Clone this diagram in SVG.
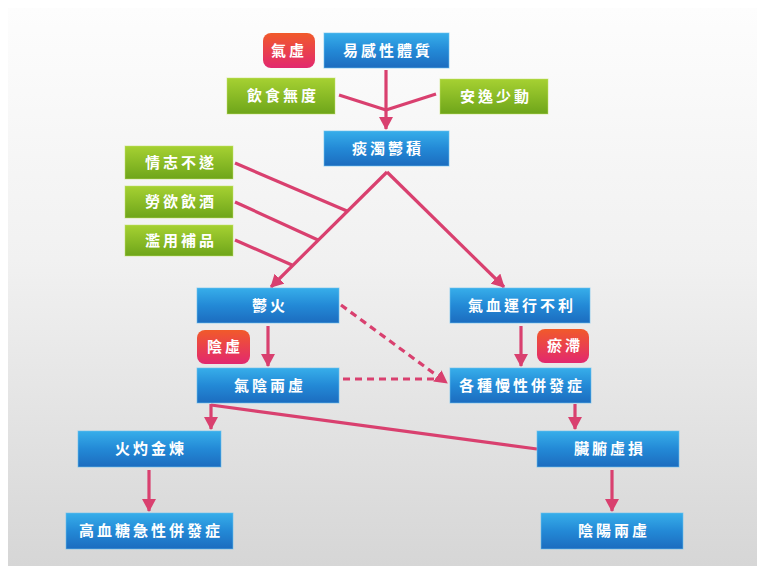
<svg xmlns="http://www.w3.org/2000/svg" width="765" height="571" viewBox="0 0 765 571">
<defs>
<linearGradient id="bg" x1="0" y1="0" x2="0" y2="1">
<stop offset="0" stop-color="#fdfdfd"/>
<stop offset="0.45" stop-color="#f1f1f1"/>
<stop offset="1" stop-color="#d6d6d6"/>
</linearGradient>
<linearGradient id="blue" x1="0" y1="0" x2="0" y2="1">
<stop offset="0" stop-color="#37aeea"/>
<stop offset="0.5" stop-color="#2389d6"/>
<stop offset="1" stop-color="#1c6cbf"/>
</linearGradient>
<linearGradient id="green" x1="0" y1="0" x2="0" y2="1">
<stop offset="0" stop-color="#a6d132"/>
<stop offset="1" stop-color="#6ea51a"/>
</linearGradient>
<linearGradient id="red" x1="0" y1="0" x2="0" y2="1">
<stop offset="0" stop-color="#f15a2a"/>
<stop offset="1" stop-color="#e2286f"/>
</linearGradient>
<marker id="arr" markerUnits="userSpaceOnUse" markerWidth="14" markerHeight="14" viewBox="0 0 14 14" refX="12" refY="7" orient="auto">
<path d="M0,0 L13,7 L0,14 Z" fill="#d9406f"/>
</marker>
</defs>
<style>
.blue{fill:url(#blue);stroke:#6cc2f0;stroke-width:1;stroke-opacity:0.6}
.green{fill:url(#green);stroke:#c3e36a;stroke-width:1;stroke-opacity:0.5}
.red{fill:url(#red)}
text{font-family:"Noto Sans CJK TC","Noto Sans CJK SC",sans-serif;font-weight:bold;font-size:15px;fill:#ffffff;text-anchor:middle;letter-spacing:3px}
.c{stroke:#d9406f;stroke-width:3.2;fill:none}
.d{stroke:#d9406f;stroke-width:3.2;fill:none;stroke-dasharray:7,5}
</style>
<rect x="0" y="0" width="765" height="571" fill="#ffffff"/>
<rect x="8" y="8" width="749" height="558" fill="url(#bg)"/>

<g id="connectors">
<line class="c" x1="386" y1="70" x2="386" y2="129" marker-end="url(#arr)"/>
<line class="c" x1="339" y1="95" x2="386" y2="110"/>
<line class="c" x1="436" y1="94" x2="386" y2="110"/>
<line class="c" x1="387" y1="172" x2="271" y2="287" marker-end="url(#arr)"/>
<line class="c" x1="387" y1="172" x2="504" y2="287" marker-end="url(#arr)"/>
<line class="c" x1="235" y1="163" x2="347" y2="211"/>
<line class="c" x1="235" y1="202" x2="318" y2="240"/>
<line class="c" x1="235" y1="240" x2="292" y2="265"/>
<line class="c" x1="268" y1="326" x2="268" y2="366" marker-end="url(#arr)"/>
<line class="c" x1="521" y1="326" x2="521" y2="366" marker-end="url(#arr)"/>
<line class="d" x1="341" y1="305" x2="447" y2="383" marker-end="url(#arr)"/>
<line class="d" x1="343" y1="379" x2="443" y2="379"/>
<line class="c" x1="575" y1="404" x2="575" y2="429" marker-end="url(#arr)"/>
<line class="c" x1="211" y1="405" x2="537" y2="449"/>
<line class="c" x1="211" y1="404" x2="211" y2="429" marker-end="url(#arr)"/>
<line class="c" x1="149" y1="470" x2="149" y2="511" marker-end="url(#arr)"/>
<line class="c" x1="612" y1="470" x2="612" y2="511" marker-end="url(#arr)"/>
</g>

<g id="n-qixu"><rect class="red" x="263" y="33" width="52" height="35" rx="8"/><text x="289" y="56">氣虛</text></g>
<g id="n-yigan"><rect class="blue" x="324" y="33" width="125" height="35"/><text x="388" y="56">易感性體質</text></g>
<g id="n-yinshi"><rect class="green" x="227" y="78" width="108" height="36"/><text x="283" y="101">飲食無度</text></g>
<g id="n-anyi"><rect class="green" x="440" y="79" width="108" height="35"/><text x="496" y="102">安逸少動</text></g>
<g id="n-tanzhuo"><rect class="blue" x="324" y="131" width="125" height="35"/><text x="388" y="154">痰濁鬱積</text></g>
<g id="n-qingzhi"><rect class="green" x="125" y="146" width="108" height="33"/><text x="181" y="168">情志不遂</text></g>
<g id="n-laoyu"><rect class="green" x="125" y="186" width="108" height="32"/><text x="181" y="207">勞欲飲酒</text></g>
<g id="n-lanyong"><rect class="green" x="125" y="225" width="108" height="31"/><text x="181" y="246">濫用補品</text></g>
<g id="n-yuhuo"><rect class="blue" x="197" y="288" width="142" height="35"/><text x="270" y="311">鬱火</text></g>
<g id="n-qixue"><rect class="blue" x="450" y="288" width="140" height="35"/><text x="522" y="311">氣血運行不利</text></g>
<g id="n-yinxu"><rect class="red" x="197" y="330" width="53" height="34" rx="8"/><text x="225" y="352">陰虛</text></g>
<g id="n-yuzhi"><rect class="red" x="537" y="329" width="52" height="34" rx="8"/><text x="565" y="351">瘀滯</text></g>
<g id="n-qiyin"><rect class="blue" x="197" y="368" width="142" height="35"/><text x="270" y="391">氣陰兩虛</text></g>
<g id="n-gezhong"><rect class="blue" x="450" y="368" width="141" height="35"/><text x="522" y="391">各種慢性併發症</text></g>
<g id="n-huozhuo"><rect class="blue" x="78" y="431" width="143" height="36"/><text x="151" y="454">火灼金煉</text></g>
<g id="n-zangfu"><rect class="blue" x="537" y="431" width="142" height="36"/><text x="610" y="454">臟腑虛損</text></g>
<g id="n-gaoxuetang"><rect class="blue" x="66" y="513" width="167" height="36"/><text x="151" y="536">高血糖急性併發症</text></g>
<g id="n-yinyang"><rect class="blue" x="541" y="513" width="142" height="36"/><text x="614" y="536">陰陽兩虛</text></g>
</svg>
